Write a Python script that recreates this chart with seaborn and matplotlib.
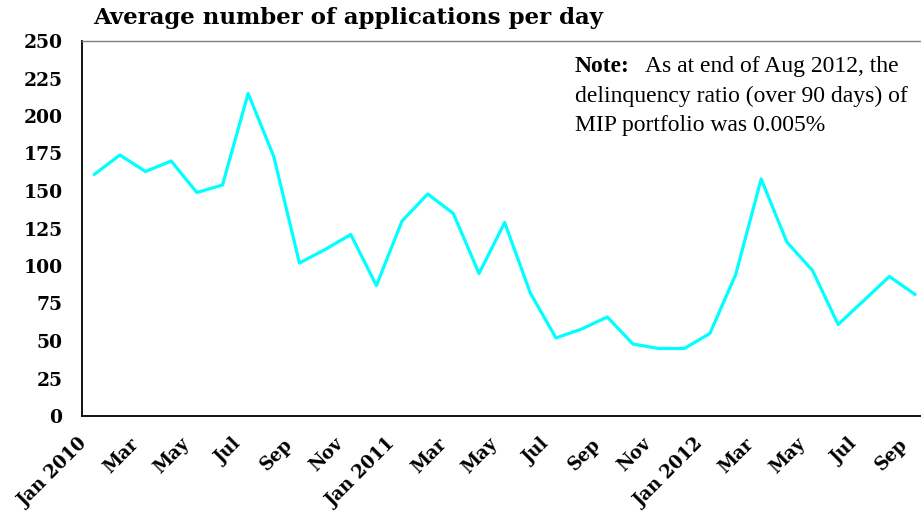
import numpy as np
import pandas as pd
import matplotlib
matplotlib.use("Agg")
import matplotlib.pyplot as plt
import matplotlib.transforms as mtransforms
import seaborn as sns

# Monthly average number of applications per day, Jan 2010 - Sep 2012
months = ["Jan 2010", "Feb", "Mar", "Apr", "May", "Jun", "Jul", "Aug", "Sep", "Oct", "Nov", "Dec",
          "Jan 2011", "Feb", "Mar", "Apr", "May", "Jun", "Jul", "Aug", "Sep", "Oct", "Nov", "Dec",
          "Jan 2012", "Feb", "Mar", "Apr", "May", "Jun", "Jul", "Aug", "Sep"]
applications = [161, 174, 163, 170, 149, 154, 215, 173, 102, 111, 121, 87,
                130, 148, 135, 95, 129, 82, 52, 58, 66, 48, 45, 45,
                55, 94, 158, 116, 97, 61, 77, 93, 81]
y_ticks = [0, 25, 50, 75, 100, 125, 150, 175, 200, 225, 250]

title = "Average number of applications per day"
note_bold = "Note:"
note_lines = ["As at end of Aug 2012, the",
              "delinquency ratio (over 90 days) of",
              "MIP portfolio was 0.005%"]

sns.set_style("white")
plt.rcParams["font.family"] = ["Liberation Serif", "DejaVu Serif"]
plt.rcParams["text.color"] = "black"
plt.rcParams["xtick.color"] = "black"
plt.rcParams["ytick.color"] = "black"

HEAVY = ["DejaVu Serif"]   # wide bold serif for title and axis labels
NOTE = ["Liberation Serif", "DejaVu Serif"]

W, H = 921, 513
fig = plt.figure(figsize=(W / 100, H / 100), dpi=100)
ax_left, ax_right, ax_bottom, ax_top = 82, 921, 416, 41
ax = fig.add_axes([ax_left / W, 1 - ax_bottom / H,
                   (ax_right - ax_left) / W, (ax_bottom - ax_top) / H])

df = pd.DataFrame({"idx": np.arange(len(applications)), "value": applications})
sns.lineplot(data=df, x="idx", y="value", ax=ax, color="#00FFFF", linewidth=2.3)

ax.set_xlim(-0.476, 32.23)
ax.set_ylim(0, 250)
ax.set_xlabel("")
ax.set_ylabel("")

# spines
ax.spines["right"].set_visible(False)
ax.spines["top"].set_color("#808080")
ax.spines["top"].set_linewidth(1.0)
for s in ("left", "bottom"):
    ax.spines[s].set_color("black")
    ax.spines[s].set_linewidth(1.3)

# y axis
ax.set_yticks(y_ticks)
ax.set_yticklabels([str(v) for v in y_ticks], fontsize=13.5, fontweight="bold",
                   family=HEAVY)
ax.tick_params(axis="y", direction="in", length=5, width=1.0, pad=14, colors="black")

# x axis: labels every two months, tick marks between categories
label_idx = list(range(0, len(months), 2))
ax.set_xticks(label_idx)
ax.set_xticklabels([months[i] for i in label_idx], fontsize=13, fontweight="bold",
                   family=HEAVY, rotation=45, ha="right", va="center",
                   rotation_mode="anchor")
ax.tick_params(axis="x", which="major", length=0, pad=18)
ax.set_xticks(np.arange(0.5, len(months) - 0.5, 1), minor=True)
ax.tick_params(axis="x", which="minor", direction="in", length=3.6, width=1.0)

shift = mtransforms.ScaledTranslation(-10 / 100, 0, fig.dpi_scale_trans)
for lbl in ax.get_xticklabels():
    lbl.set_transform(lbl.get_transform() + shift)

ax.grid(False)

# title
fig.text(93 / W, 1 - 18 / H, title, fontsize=16.5, fontweight="bold",
         family=HEAVY, ha="left", va="center")

# note text
fig.text(575 / W, 1 - 67 / H, note_bold, fontsize=17, fontweight="bold",
         family=NOTE, ha="left", va="center")
fig.text(645 / W, 1 - 67 / H, note_lines[0], fontsize=17, family=NOTE,
         ha="left", va="center")
fig.text(575 / W, 1 - 96 / H, note_lines[1], fontsize=17, family=NOTE,
         ha="left", va="center")
fig.text(575 / W, 1 - 125 / H, note_lines[2], fontsize=17, family=NOTE,
         ha="left", va="center")

fig.savefig("out.png", dpi=100, facecolor="white")
